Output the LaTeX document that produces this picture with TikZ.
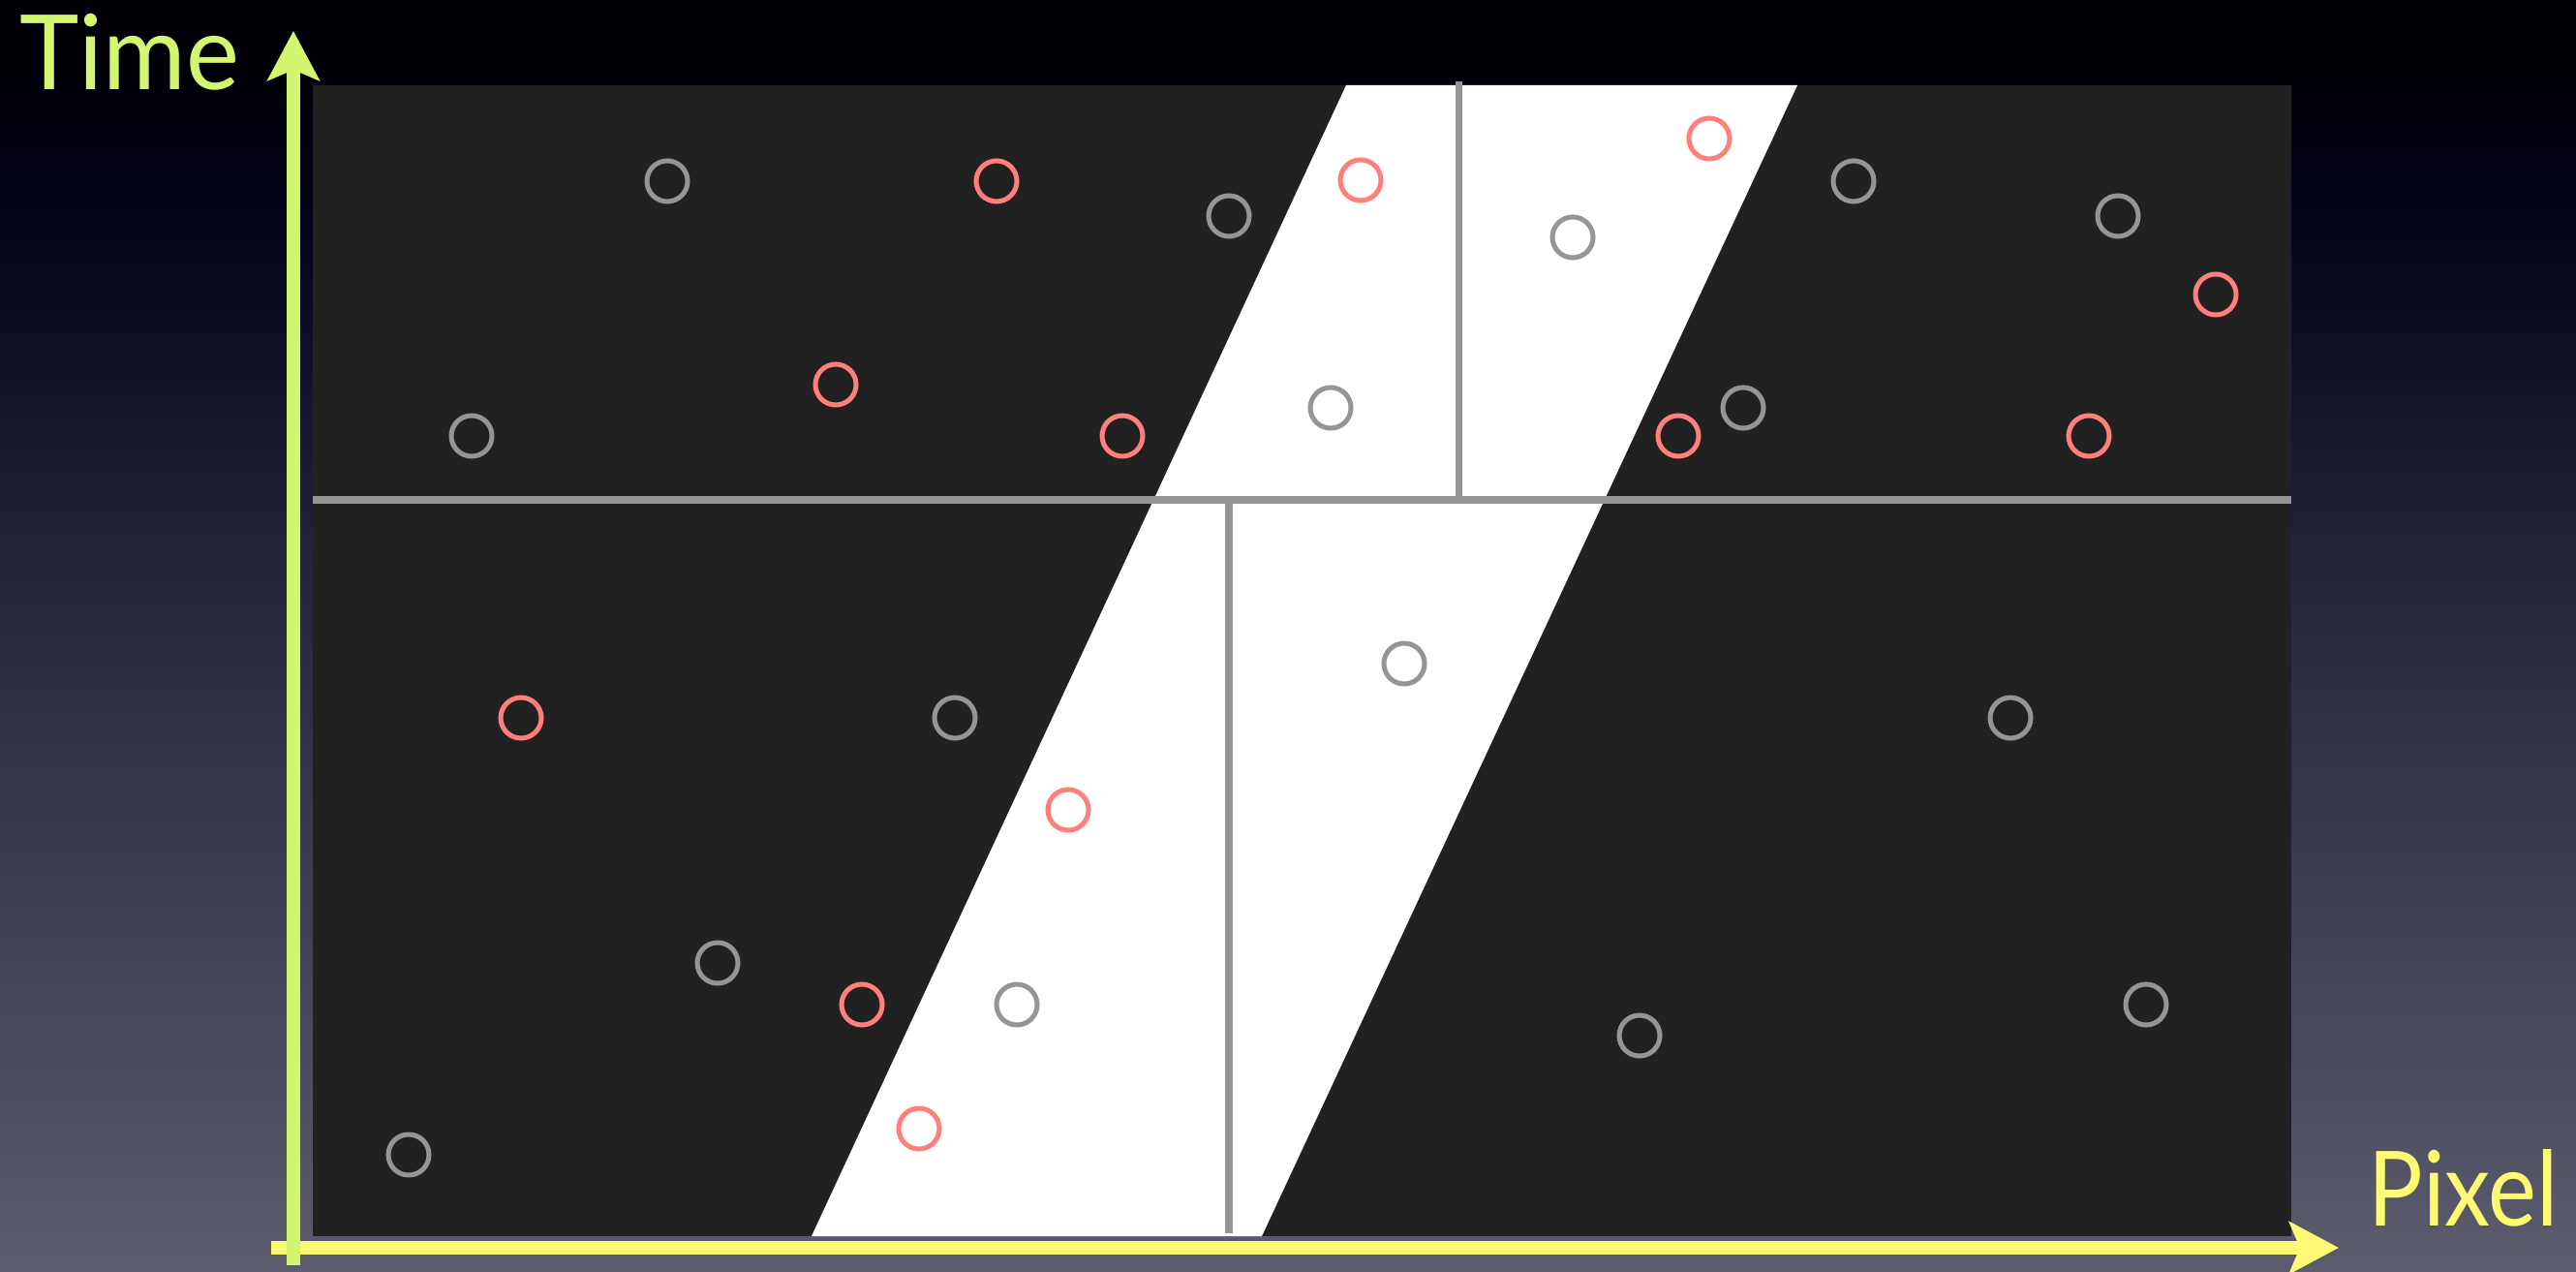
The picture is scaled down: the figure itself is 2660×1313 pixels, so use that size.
\documentclass[tikz,border=0pt]{standalone}
\usepackage{fontspec}
\setmainfont{Lato}
\usetikzlibrary{arrows.meta}
\definecolor{bgtop}{HTML}{000006}
\definecolor{bgdeep}{HTML}{04041C}
\definecolor{bgmid}{HTML}{25263E}
\definecolor{bgbot}{HTML}{5C5C6E}
\definecolor{panel}{HTML}{212121}
\definecolor{linegray}{HTML}{959595}
\definecolor{dotgray}{HTML}{959595}
\definecolor{dotred}{HTML}{FF7F7A}
\definecolor{timegreen}{HTML}{D4F56F}
\definecolor{pixyellow}{HTML}{FFFA74}
\pgfdeclareverticalshading{bgshade}{100bp}{color(0bp)=(bgbot); color(25bp)=(bgbot); color(52bp)=(bgmid); color(66bp)=(bgdeep); color(72bp)=(bgtop); color(100bp)=(bgtop)}
\tikzset{
  dot/.style={circle, minimum size=0.42cm, inner sep=0pt, line width=1.42pt},
  graydot/.style={dot, draw=dotgray},
  reddot/.style={dot, draw=dotred},
  divider/.style={draw=linegray, line width=2.1pt},
  axisarrow/.style={line width=3.9pt, -{Stealth[length=14.5pt, width=15.2pt, inset=3.1pt]}},
  lab/.style={inner sep=0pt, font=\fontsize{30.5}{36}\selectfont}
}
\begin{document}
\begin{tikzpicture}[x=0.01cm, y=-0.01cm]
\useasboundingbox (0,0) rectangle (2660,1313);
\shade[shading=bgshade] (0,0) rectangle (2660,1313);
% panel
\fill[panel] (323,88) rectangle (2366,1276);
% band
\fill[white] (1390,88) -- (1856,88) -- (1303,1276) -- (838,1276) -- cycle;
% dividers
\coordinate (hl) at (323,516);
\coordinate (hr) at (2366,516);
\coordinate (vt) at (1506,84);
\coordinate (vm) at (1506,516);
\coordinate (lt) at (1269,516);
\coordinate (lb) at (1269,1273);
\draw[divider] (hl) -- (hr);
\draw[line width=2pt, draw=linegray] (vt) -- (vm);
\draw[line width=2pt, draw=linegray] (lt) -- (lb);
% gray dots
\node[graydot] (g1) at (689,187) {};
\node[graydot] (g2) at (1269,223) {};
\node[graydot] (g3) at (487,450) {};
\node[graydot] (g4) at (1624,245) {};
\node[graydot] (g5) at (1374,421) {};
\node[graydot] (g6) at (1914,187) {};
\node[graydot] (g7) at (2187,223) {};
\node[graydot] (g8) at (1800,421) {};
\node[graydot] (g9) at (986,741) {};
\node[graydot] (g10) at (1450,685) {};
\node[graydot] (g11) at (2076,741) {};
\node[graydot] (g12) at (741,994) {};
\node[graydot] (g13) at (1050,1037) {};
\node[graydot] (g14) at (1693,1069) {};
\node[graydot] (g15) at (2216,1037) {};
\node[graydot] (g16) at (422,1192) {};
% red dots
\node[reddot] (r1) at (1029,187) {};
\node[reddot] (r2) at (1405,186) {};
\node[reddot] (r3) at (1765,143) {};
\node[reddot] (r4) at (863,397) {};
\node[reddot] (r5) at (1159,450) {};
\node[reddot] (r6) at (1733,450) {};
\node[reddot] (r7) at (2288,304) {};
\node[reddot] (r8) at (2157,450) {};
\node[reddot] (r9) at (538,741) {};
\node[reddot] (r10) at (1103,836) {};
\node[reddot] (r11) at (890,1037) {};
\node[reddot] (r12) at (949,1165) {};
% axes
\coordinate (yb) at (303,1306);
\coordinate (yt) at (303,32);
\coordinate (xl) at (280,1288);
\coordinate (xr) at (2415,1288);
\draw[axisarrow, draw=pixyellow, fill=pixyellow] (xl) -- (xr);
\draw[axisarrow, draw=timegreen, fill=timegreen] (yb) -- (yt);
% labels
\node[lab, text=timegreen, anchor=base west] (time) at (20,93) {\scalebox{0.97}[1]{Time}};
\node[lab, text=pixyellow, anchor=base west] (pixel) at (2445,1265) {\scalebox{0.88}[1]{Pixel}};
\end{tikzpicture}
\end{document}
